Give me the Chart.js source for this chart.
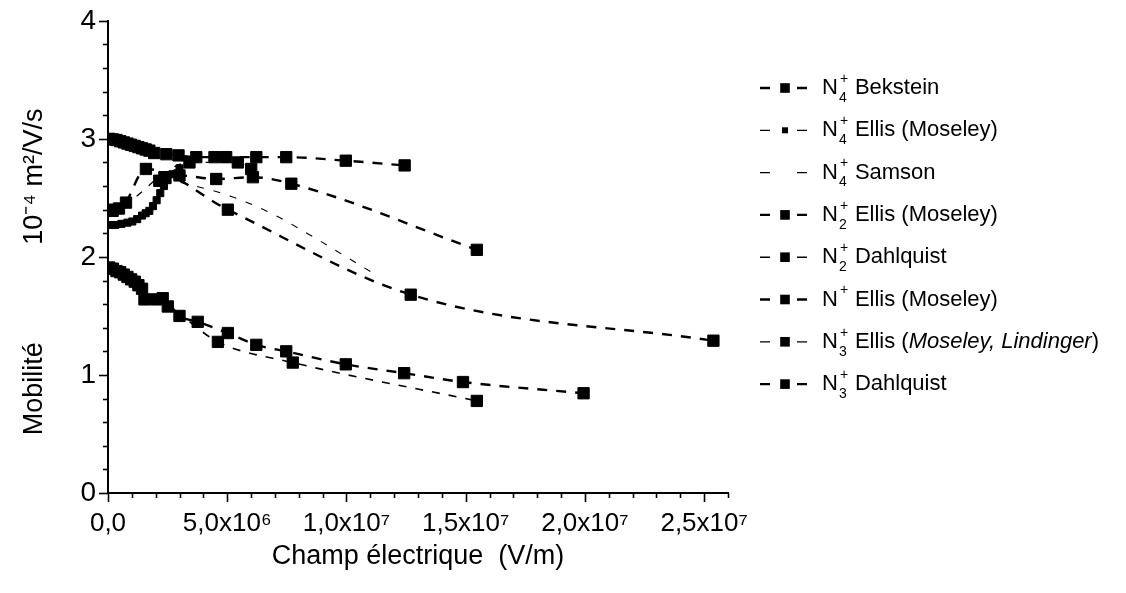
<!DOCTYPE html>
<html>
<head>
<meta charset="utf-8">
<script src="https://cdn.jsdelivr.net/npm/chart.js@4.4.1/dist/chart.umd.min.js"></script>
<style>
  html, body { margin: 0; padding: 0; background: #fff; }
  #wrap { width: 1126px; height: 593px; }
</style>
</head>
<body>
<div id="wrap"><canvas id="c"></canvas></div>
<script>
// champ électrique in V/m, mobilité in 1e-4 m2/V/s
const n4BeksteinX = [0.74e6, 1.56e6, 4.93e6, 12.45e6, 24.9e6];
const n4BeksteinY = [2.46, 2.745, 2.40, 1.68, 1.29];

const n4EllisX = [0.05e6, 0.3e6, 0.55e6, 0.8e6, 1.0e6, 1.2e6, 1.4e6, 1.55e6, 1.7e6, 1.85e6, 2.0e6, 2.15e6, 2.3e6, 2.45e6, 2.65e6, 2.94e6];
const n4EllisY = [2.27, 2.27, 2.28, 2.29, 2.30, 2.32, 2.35, 2.37, 2.39, 2.43, 2.48, 2.54, 2.60, 2.65, 2.70, 2.75];

const n4SamsonX = [2.3e6, 3.6e6, 5.1e6, 6.8e6, 8.6e6, 9.4e6, 11.0e6];
const n4SamsonY = [2.66, 2.60, 2.51, 2.36, 2.15, 2.05, 1.85];

const n2EllisX = [0.05e6, 0.2e6, 0.35e6, 0.5e6, 0.65e6, 0.8e6, 0.95e6, 1.1e6, 1.25e6, 1.4e6, 1.98e6, 2.25e6, 2.94e6, 3.69e6, 4.93e6, 6.1e6, 7.33e6, 9.78e6, 12.18e6, 14.6e6, 19.56e6];
const n2EllisY = [1.91, 1.90, 1.88, 1.87, 1.85, 1.83, 1.81, 1.79, 1.76, 1.73, 1.64, 1.65, 1.50, 1.45, 1.355, 1.255, 1.20, 1.09, 1.015, 0.94, 0.845];

const n2DahlquistX = [1.5e6, 2.46e6, 4.52e6, 7.6e6, 15.17e6];
const n2DahlquistY = [1.64, 1.58, 1.28, 1.105, 0.78];

const nEllisX = [0.05e6, 0.2e6, 0.35e6, 0.5e6, 0.65e6, 0.8e6, 0.95e6, 1.1e6, 1.25e6, 1.4e6, 1.55e6, 1.7e6, 1.9e6, 2.4e6, 2.9e6, 3.63e6, 4.38e6, 4.86e6, 6.1e6, 7.33e6, 9.78e6, 12.2e6];
const nEllisY = [3.00, 2.995, 2.99, 2.98, 2.97, 2.96, 2.95, 2.94, 2.93, 2.92, 2.91, 2.90, 2.88, 2.87, 2.86, 2.845, 2.845, 2.845, 2.845, 2.845, 2.815, 2.775];

const n3EllisX = [0.05e6, 0.19e6, 0.45e6, 3.35e6, 5.34e6, 5.89e6];
const n3EllisY = [2.40, 2.39, 2.41, 2.80, 2.80, 2.745];

const n3DahlquistX = [2.11e6, 2.32e6, 2.94e6, 4.45e6, 5.96e6, 7.54e6, 15.17e6];
const n3DahlquistY = [2.645, 2.675, 2.69, 2.66, 2.675, 2.62, 2.06];

// legend text
const ionSub = ['4', '4', '4', '2', '2', '', '3', '3'];
const authors = ['Bekstein', 'Ellis (Moseley)', 'Samson', 'Ellis (Moseley)', 'Dahlquist', 'Ellis (Moseley)', 'Ellis (Moseley, Lindinger)', 'Dahlquist'];
const italicPart = ['', '', '', '', '', '', 'Moseley, Lindinger', ''];

const xTickLabels = ['0,0', '5,0x10⁶', '1,0x10⁷', '1,5x10⁷', '2,0x10⁷', '2,5x10⁷'];

const seriesX = [n4BeksteinX, n4EllisX, n4SamsonX, n2EllisX, n2DahlquistX, nEllisX, n3EllisX, n3DahlquistX];
const seriesY = [n4BeksteinY, n4EllisY, n4SamsonY, n2EllisY, n2DahlquistY, nEllisY, n3EllisY, n3DahlquistY];

// line look per series
const lineWidths = [2.4, 1.3, 1.1, 2.4, 1.6, 2.4, 1.3, 2.4];
const dashes = [[10, 9], [7, 9], [7, 10], [10, 9], [8, 9], [10, 9], [7, 9], [10, 9]];
const radii = [8, 5, 0, 8, 8, 8, 8, 8];

const FONT = "'Liberation Sans', Arial, sans-serif";

const datasets = seriesX.map((xs, i) => ({
  label: authors[i],
  data: xs.map((x, j) => ({ x, y: seriesY[i][j] })),
  showLine: true,
  borderColor: '#000',
  backgroundColor: '#000',
  borderWidth: lineWidths[i],
  borderDash: dashes[i],
  cubicInterpolationMode: 'monotone',
  pointStyle: 'rect',
  pointRadius: radii[i],
  pointBorderWidth: 1,
  pointBorderColor: '#000',
  pointBackgroundColor: '#000',
}));

// outward major / minor tick marks
const tickMarks = {
  id: 'tickMarks',
  afterDraw(chart) {
    const ctx = chart.ctx;
    const xs = chart.scales.x, ys = chart.scales.y;
    ctx.save();
    ctx.strokeStyle = '#000';
    ctx.lineWidth = 1.6;
    xs.ticks.forEach(t => {
      const px = Math.round(xs.getPixelForValue(t.value)) + 0.5;
      const major = Math.round(t.value / 1e6) % 5 === 0;
      ctx.beginPath();
      ctx.moveTo(px, ys.bottom);
      ctx.lineTo(px, ys.bottom + (major ? 9 : 5));
      ctx.stroke();
    });
    ys.ticks.forEach(t => {
      const py = Math.round(ys.getPixelForValue(t.value)) + 0.5;
      const major = Math.round(t.value * 5) % 5 === 0;
      ctx.beginPath();
      ctx.moveTo(xs.left, py);
      ctx.lineTo(xs.left - (major ? 9 : 5), py);
      ctx.stroke();
    });
    ctx.restore();
  }
};

// legend with sub/superscripts and line+marker sample
const sideLegend = {
  id: 'sideLegend',
  afterDraw(chart) {
    const ctx = chart.ctx;
    ctx.save();
    ctx.fillStyle = '#000';
    ctx.strokeStyle = '#000';
    ctx.textBaseline = 'middle';
    chart.data.datasets.forEach((ds, i) => {
      const y = 88 + i * 42.3;
      ctx.lineWidth = ds.borderWidth;
      ctx.beginPath();
      ctx.moveTo(760, y); ctx.lineTo(770, y);
      ctx.moveTo(797, y); ctx.lineTo(807, y);
      ctx.stroke();
      if (ds.pointRadius > 0) {
        const s = ds.pointRadius * Math.SQRT1_2 * 0.85;
        ctx.fillRect(785 - s, y - s, 2 * s, 2 * s);
      }
      let x = 822;
      ctx.font = '22px ' + FONT;
      ctx.fillText('N', x, y);
      x += ctx.measureText('N').width + 1;
      ctx.font = '14px ' + FONT;
      if (ionSub[i]) ctx.fillText(ionSub[i], x, y + 10);
      ctx.fillText('+', x + 1, y - 9);
      x += 16;
      ctx.font = '22px ' + FONT;
      const name = authors[i];
      const it = italicPart[i];
      if (it) {
        const k = name.indexOf(it);
        const a = name.slice(0, k), b = name.slice(k + it.length);
        ctx.fillText(a, x, y);
        x += ctx.measureText(a).width;
        ctx.font = 'italic 22px ' + FONT;
        ctx.fillText(it, x, y);
        x += ctx.measureText(it).width;
        ctx.font = '22px ' + FONT;
        ctx.fillText(b, x, y);
      } else {
        ctx.fillText(name, x, y);
      }
    });
    ctx.restore();
  }
};

new Chart(document.getElementById('c').getContext('2d'), {
  type: 'scatter',
  data: { datasets },
  options: {
    responsive: true,
    maintainAspectRatio: false,
    animation: false,
    devicePixelRatio: 1,
    layout: { padding: { left: 0, top: 18, right: 398, bottom: 0 } },
    plugins: { legend: { display: false }, tooltip: { enabled: false } },
    scales: {
      x: {
        type: 'linear',
        min: 0,
        max: 2.55e7,
        afterFit: s => { s.height = 100; },
        grid: { display: false },
        border: { display: true, color: '#000', width: 2 },
        ticks: {
          stepSize: 1e6,
          autoSkip: false,
          includeBounds: false,
          maxRotation: 0,
          padding: 7,
          color: '#000',
          font: { family: FONT, size: 26 },
          callback: v => {
            const k = Math.round(v / 1e6);
            return k % 5 === 0 ? xTickLabels[k / 5] : '';
          }
        },
        title: {
          display: true,
          text: 'Champ électrique  (V/m)',
          color: '#000',
          font: { family: FONT, size: 27 },
          padding: { top: 0, bottom: 20 }
        }
      },
      y: {
        min: 0,
        max: 4,
        afterFit: s => { s.width = 108; },
        grid: { display: false },
        border: { display: true, color: '#000', width: 2 },
        ticks: {
          stepSize: 0.2,
          autoSkip: false,
          padding: 4,
          color: '#000',
          font: { family: FONT, size: 28 },
          callback: v => {
            const r = Math.round(v * 5);
            return r % 5 === 0 ? String(r / 5) : '';
          }
        },
        title: {
          display: true,
          text: 'Mobilité             10⁻⁴ m²/V/s    ',
          color: '#000',
          font: { family: FONT, size: 27 },
          padding: { top: 18 }
        }
      }
    }
  },
  plugins: [tickMarks, sideLegend]
});
</script>
</body>
</html>
